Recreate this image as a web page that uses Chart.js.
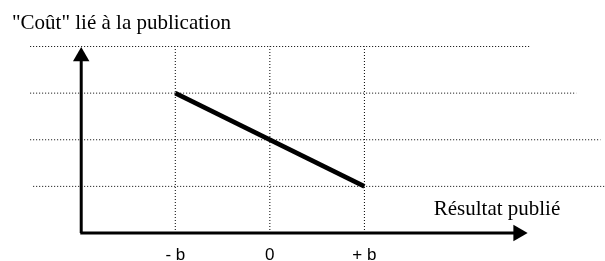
<!DOCTYPE html>
<html>
<head>
<meta charset="utf-8">
<script src="https://cdn.jsdelivr.net/npm/chart.js@4/dist/chart.umd.min.js"></script>
<style>
  html, body { margin: 0; padding: 0; background: #fff; }
  #wrap { width: 605px; height: 261px; }
</style>
</head>
<body>
<div id="wrap"><canvas id="c"></canvas></div>
<script>
// ---- data ----
const titleText = '"Coût" lié à la publication';
const xAxisText = 'Résultat publié';
const tickValues = [-1, 0, 1];
const tickLabels = ['- b', '0', '+ b'];

// the cost line: from (-b, 3) down to (+b, 1)
const costX = [-1, 1];
const costY = [3, 1];

// dotted horizontal guide lines (level, start, end)
const guideLevels = [4, 3, 2, 1];
const guideStart = [-2.535, -2.535, -2.535, -2.503];
const guideEnd = [2.749, 3.241, 3.497, 3.551];

// dotted vertical guide lines
const columnX = [-1, 0, 1];
const columnTop = 4;

// axes (origin and arrow ends)
const originX = -1.995;
const yAxisEnd = 3.788;
const xAxisEnd = 2.626;

// text placed in the plot
const xAxisTextAt = [1.733, 0.386];

// ---- chart ----
const dotted = { borderColor: '#000', borderWidth: 1, borderDash: [1, 2], pointRadius: 0, clip: false, fill: false };

const datasets = [];
datasets.push({
  label: 'coût', data: costX.map((x, i) => ({ x, y: costY[i] })),
  borderColor: '#000', borderWidth: 4.5, pointRadius: 0, clip: false, fill: false
});
datasets.push({
  label: 'axe y', data: [{ x: originX, y: 0 }, { x: originX, y: yAxisEnd }],
  borderColor: '#000', borderWidth: 3, backgroundColor: '#000',
  pointStyle: 'triangle', pointRadius: [0, 9.5], pointBorderWidth: 0, pointRotation: 0, clip: false
});
datasets.push({
  label: 'axe x', data: [{ x: originX - 0.01, y: 0 }, { x: xAxisEnd, y: 0 }],
  borderColor: '#000', borderWidth: 3, backgroundColor: '#000',
  pointStyle: 'triangle', pointRadius: [0, 9.5], pointBorderWidth: 0, pointRotation: 90, clip: false
});
columnX.forEach(x => datasets.push(Object.assign({ label: 'col', data: [{ x, y: 0 }, { x, y: columnTop }] }, dotted)));
guideLevels.forEach((y, i) => datasets.push(Object.assign({ label: 'niv', data: [{ x: guideStart[i], y }, { x: guideEnd[i], y }] }, dotted)));

const textPlugin = {
  id: 'plotText',
  afterDatasetsDraw(chart) {
    const ctx = chart.ctx;
    const xs = chart.scales.x, ys = chart.scales.y;
    ctx.save();
    ctx.fillStyle = '#000';
    ctx.font = '21px "Liberation Serif", "Times New Roman", serif';
    ctx.textAlign = 'left';
    ctx.textBaseline = 'alphabetic';
    ctx.fillText(xAxisText, xs.getPixelForValue(xAxisTextAt[0]), ys.getPixelForValue(xAxisTextAt[1]));
    ctx.restore();
  }
};

new Chart(document.getElementById('c'), {
  type: 'line',
  data: { datasets },
  plugins: [textPlugin],
  options: {
    responsive: true,
    maintainAspectRatio: false,
    animation: false,
    events: [],
    layout: { padding: { left: 12, right: 0, top: 0, bottom: 0 } },
    plugins: {
      legend: { display: false },
      tooltip: { enabled: false },
      title: {
        display: true, text: titleText, align: 'start', color: '#000',
        font: { family: '"Liberation Serif", "Times New Roman", serif', size: 21, weight: 'normal' },
        padding: { top: 11, bottom: 0 }
      }
    },
    scales: {
      x: {
        type: 'linear', position: 'bottom', min: -2.727, max: 3.444,
        grid: { display: false, drawTicks: false, tickLength: 0 },
        border: { display: false },
        afterBuildTicks: s => { s.ticks = tickValues.map(v => ({ value: v })); },
        afterFit: s => { s.height = 28; },
        ticks: {
          color: '#000', padding: 12, maxRotation: 0, autoSkip: false,
          font: { family: '"Liberation Sans Narrow", "Arial Narrow", "Liberation Sans", Arial, sans-serif', size: 17 },
          callback: v => { const i = tickValues.indexOf(v); return i >= 0 ? tickLabels[i] : ''; }
        }
      },
      y: {
        type: 'linear', display: false, min: 0, max: 4.221
      }
    }
  }
});
</script>
</body>
</html>
